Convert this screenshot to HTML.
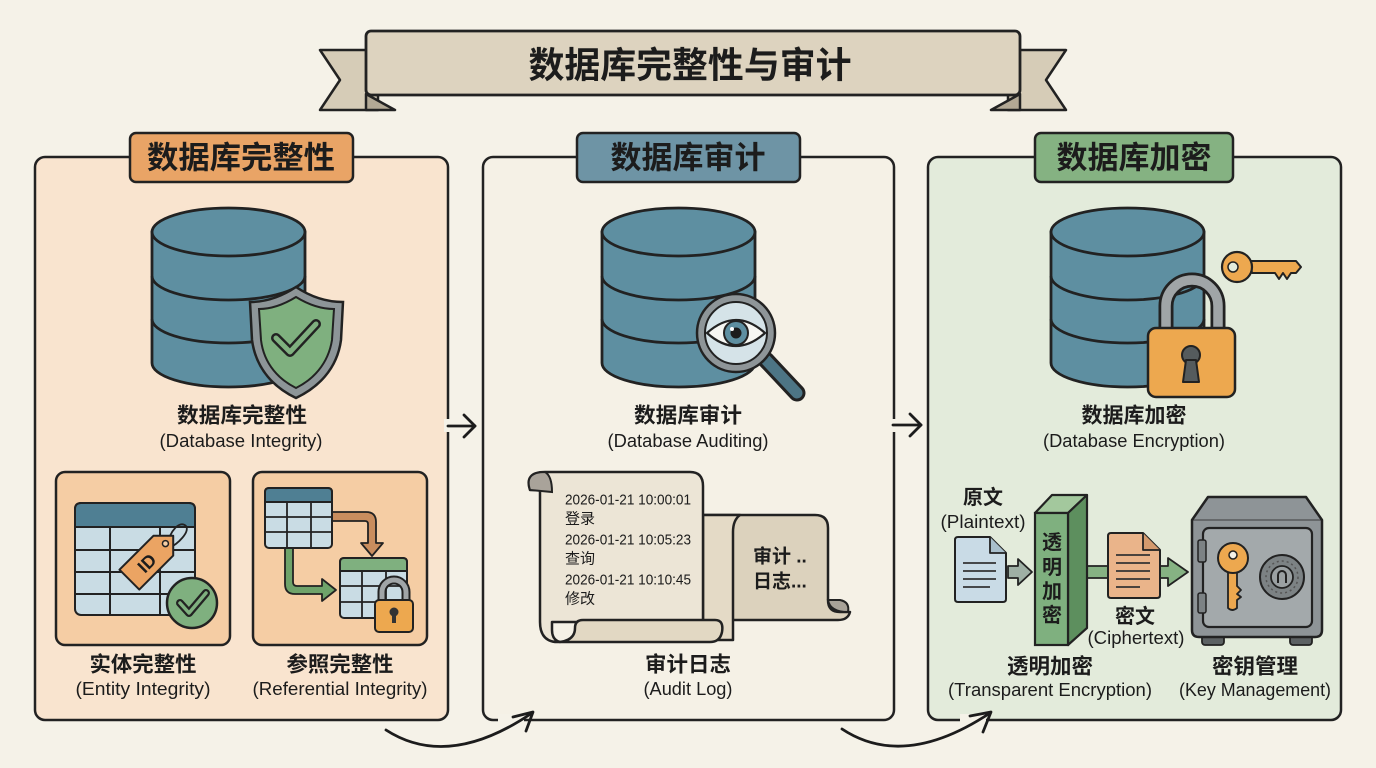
<!DOCTYPE html>
<html><head><meta charset="utf-8"><style>
html,body{margin:0;padding:0;background:#f5f2e8;}
svg{display:block;}
text{font-family:"Liberation Sans","Noto Sans CJK SC",sans-serif;fill:#1c1c1c;}
.zh{font-weight:700;}
</style></head><body>
<svg width="1376" height="768" viewBox="0 0 1376 768" xmlns="http://www.w3.org/2000/svg">
<rect width="1376" height="768" fill="#f5f2e8"/>

<!-- Title banner -->
<polygon points="320,50 378,50 378,110 320,110 340,80" fill="#d6ccb7" stroke="#222" stroke-width="2.5" stroke-linejoin="round"/>
<polygon points="1066,50 1008,50 1008,110 1066,110 1046,80" fill="#d6ccb7" stroke="#222" stroke-width="2.5" stroke-linejoin="round"/>
<polygon points="366,94 395,110 366,110" fill="#b3a995" stroke="#222" stroke-width="2.5" stroke-linejoin="round"/>
<polygon points="1020,94 991,110 1020,110" fill="#b3a995" stroke="#222" stroke-width="2.5" stroke-linejoin="round"/>
<rect x="366" y="31" width="654" height="64" rx="5" fill="#ddd3bf" stroke="#222" stroke-width="2.8"/>
<text x="690" y="65" text-anchor="middle" dominant-baseline="central" class="zh" font-size="36" textLength="323" lengthAdjust="spacingAndGlyphs">数据库完整性与审计</text>

<!-- Panels -->
<rect x="35" y="157" width="413" height="563" rx="10" fill="#f9e4cf" stroke="#222" stroke-width="2.5"/>
<rect x="483" y="157" width="411" height="563" rx="10" fill="#f5f1e6" stroke="#222" stroke-width="2.5"/>
<rect x="928" y="157" width="413" height="563" rx="10" fill="#e3ebdb" stroke="#222" stroke-width="2.5"/>

<!-- gaps in borders for arrows -->
<rect x="498" y="714" width="26" height="10" fill="#f5f2e8"/>
<rect x="960" y="714" width="26" height="10" fill="#f5f2e8"/>
<rect x="890" y="419" width="8" height="13" fill="#f5f2e8"/>
<rect x="444" y="419" width="8" height="13" fill="#f5f2e8"/>

<!-- Tabs -->
<rect x="130" y="133" width="223" height="49" rx="6" fill="#e9a466" stroke="#222" stroke-width="2.5"/>
<text x="241" y="158" text-anchor="middle" dominant-baseline="central" class="zh" font-size="31" textLength="188" lengthAdjust="spacingAndGlyphs">数据库完整性</text>
<rect x="577" y="133" width="223" height="49" rx="6" fill="#6e94a5" stroke="#222" stroke-width="2.5"/>
<text x="688" y="158" text-anchor="middle" dominant-baseline="central" class="zh" font-size="31" textLength="155" lengthAdjust="spacingAndGlyphs">数据库审计</text>
<rect x="1035" y="133" width="198" height="49" rx="6" fill="#85b282" stroke="#222" stroke-width="2.5"/>
<text x="1134" y="158" text-anchor="middle" dominant-baseline="central" class="zh" font-size="31" textLength="155" lengthAdjust="spacingAndGlyphs">数据库加密</text>

<!-- Databases -->
<g fill="#5e8fa1" stroke="#222" stroke-width="2.8">
  <path d="M152,232 L152,363 A76.5,24 0 0 0 305,363 L305,232 Z"/>
  <ellipse cx="228.5" cy="232" rx="76.5" ry="24"/>
  <path d="M152,276 A76.5,24 0 0 0 305,276 M152,319 A76.5,24 0 0 0 305,319" fill="none"/>
  <path d="M602,232 L602,363 A76.5,24 0 0 0 755,363 L755,232 Z"/>
  <ellipse cx="678.5" cy="232" rx="76.5" ry="24"/>
  <path d="M602,276 A76.5,24 0 0 0 755,276 M602,319 A76.5,24 0 0 0 755,319" fill="none"/>
  <path d="M1051,232 L1051,363 A76.5,24 0 0 0 1204,363 L1204,232 Z"/>
  <ellipse cx="1127.5" cy="232" rx="76.5" ry="24"/>
  <path d="M1051,276 A76.5,24 0 0 0 1204,276 M1051,319 A76.5,24 0 0 0 1204,319" fill="none"/>
</g>

<!-- Shield -->
<path d="M296,287 C281,297 266,302 250,302 L252,340 C256,370 275,388 296,398 C317,388 337,370 341,340 L343,302 C327,302 311,297 296,287 Z" fill="#8d9598" stroke="#222" stroke-width="2.5"/>
<path d="M296,297 C283,305 271,309 259,309 L261,340 C264,365 280,380 296,388 C312,380 328,365 332,340 L334,309 C321,309 309,305 296,297 Z" fill="#7fb07f" stroke="#222" stroke-width="2"/>
<polyline points="276,338 290,352 316,324" fill="none" stroke="#222" stroke-width="10" stroke-linecap="round" stroke-linejoin="round"/>
<polyline points="276,338 290,352 316,324" fill="none" stroke="#7fb07f" stroke-width="5" stroke-linecap="round" stroke-linejoin="round"/>

<!-- Magnifier -->
<line x1="766" y1="360" x2="797" y2="393" stroke="#222" stroke-width="17" stroke-linecap="round"/>
<line x1="766" y1="360" x2="797" y2="393" stroke="#4d7585" stroke-width="11" stroke-linecap="round"/>
<circle cx="736" cy="333" r="39" fill="#8e9598" stroke="#222" stroke-width="2.5"/>
<circle cx="736" cy="333" r="31" fill="#d5e3e8" stroke="#222" stroke-width="2"/>
<path d="M707,333 Q736,307 765,333 Q736,359 707,333 Z" fill="#f6f6f2" stroke="#222" stroke-width="2.2"/>
<circle cx="736" cy="333" r="12" fill="#5e8fa1" stroke="#222" stroke-width="2"/>
<circle cx="736" cy="333" r="5.5" fill="#1c1c1c"/>
<circle cx="732" cy="329" r="2" fill="#fff"/>

<!-- Lock and key panel 3 -->
<path d="M1166,332 L1166,306 A26,26 0 0 1 1218,306 L1218,332" fill="none" stroke="#222" stroke-width="15"/>
<path d="M1166,332 L1166,306 A26,26 0 0 1 1218,306 L1218,332" fill="none" stroke="#a0a5a7" stroke-width="9.5"/>
<rect x="1148" y="328" width="87" height="69" rx="8" fill="#eda84f" stroke="#222" stroke-width="2.5"/>
<circle cx="1191" cy="355" r="9" fill="#555b5d" stroke="#222" stroke-width="2"/>
<path d="M1186,360 L1183,382 L1199,382 L1196,360 Z" fill="#555b5d" stroke="#222" stroke-width="2" stroke-linejoin="round"/>
<path d="M1250,261 L1296,261 L1301,267 L1296,273 L1291,273 L1287,279 L1283,273 L1279,279 L1275,273 L1252,273 Z" fill="#eda84f" stroke="#222" stroke-width="2" stroke-linejoin="round"/>
<circle cx="1237" cy="267" r="15" fill="#eda84f" stroke="#222" stroke-width="2.2"/>
<circle cx="1233" cy="267" r="5" fill="#e3ebdb" stroke="#222" stroke-width="1.5"/>

<!-- Main labels -->
<text x="242" y="416" text-anchor="middle" dominant-baseline="central" class="zh" font-size="21" textLength="130" lengthAdjust="spacingAndGlyphs">数据库完整性</text>
<text x="241" y="441" text-anchor="middle" dominant-baseline="central" font-size="18" textLength="163" lengthAdjust="spacingAndGlyphs">(Database Integrity)</text>
<text x="688" y="416" text-anchor="middle" dominant-baseline="central" class="zh" font-size="21" textLength="108" lengthAdjust="spacingAndGlyphs">数据库审计</text>
<text x="688" y="441" text-anchor="middle" dominant-baseline="central" font-size="18" textLength="161" lengthAdjust="spacingAndGlyphs">(Database Auditing)</text>
<text x="1134" y="416" text-anchor="middle" dominant-baseline="central" class="zh" font-size="21" textLength="105" lengthAdjust="spacingAndGlyphs">数据库加密</text>
<text x="1134" y="441" text-anchor="middle" dominant-baseline="central" font-size="18" textLength="182" lengthAdjust="spacingAndGlyphs">(Database Encryption)</text>

<!-- Side arrows -->
<g fill="none" stroke="#1c1c1c" stroke-width="2.8" stroke-linecap="round" stroke-linejoin="round">
  <line x1="448" y1="426" x2="475" y2="426"/>
  <polyline points="464,415 475,426 464,437"/>
  <line x1="893" y1="425" x2="921" y2="425"/>
  <polyline points="910,414 921,425 910,436"/>
  <!-- bottom curved arrows -->
  <path d="M386,730 Q448,770 532,713"/>
  <polyline points="513,717 533,712 526,731"/>
  <path d="M842,729 Q904,770 990,713"/>
  <polyline points="970,716 991,712 983,732"/>
</g>

<!-- Panel 1 sub boxes -->
<rect x="56" y="472" width="174" height="173" rx="9" fill="#f5cda4" stroke="#222" stroke-width="2.5"/>
<rect x="253" y="472" width="174" height="173" rx="9" fill="#f5cda4" stroke="#222" stroke-width="2.5"/>
<!-- entity table -->
<rect x="75" y="503" width="120" height="112" rx="6" fill="#c9dce4" stroke="#222" stroke-width="2"/>
<path d="M75,527 L75,509 Q75,503 81,503 L189,503 Q195,503 195,509 L195,527 Z" fill="#4f7f93" stroke="#222" stroke-width="2"/>
<g stroke="#222" stroke-width="2">
  <line x1="75" y1="550" x2="195" y2="550"/><line x1="75" y1="572" x2="195" y2="572"/><line x1="75" y1="594" x2="195" y2="594"/>
  <line x1="110" y1="527" x2="110" y2="615"/><line x1="160" y1="527" x2="160" y2="615"/>
</g>
<path d="M167,546 C170,530 180,520 186,526 C190,532 178,544 169,548" fill="none" stroke="#222" stroke-width="1.8"/>
<g transform="translate(152,557) rotate(-45)">
  <polygon points="-32,-14 16,-14 30,0 16,14 -32,14" fill="#eba463" stroke="#222" stroke-width="2" stroke-linejoin="round"/>
  <circle cx="19" cy="0" r="3" fill="#f5cda4" stroke="#222" stroke-width="1.5"/>
  <text x="-8" y="1" text-anchor="middle" dominant-baseline="central" font-size="18" font-weight="700">ID</text>
</g>
<circle cx="192" cy="603" r="25" fill="#7fb07f" stroke="#222" stroke-width="2.5"/>
<polyline points="180,603 189,613 206,593" fill="none" stroke="#222" stroke-width="8" stroke-linecap="round" stroke-linejoin="round"/>
<polyline points="180,603 189,613 206,593" fill="none" stroke="#7fb07f" stroke-width="3.5" stroke-linecap="round" stroke-linejoin="round"/>

<!-- referential -->
<path d="M332,512 L366,512 Q376,512 376,522 L376,543 L383,543 L372,556 L361,543 L368,543 L368,524 Q368,521 365,521 L332,521 Z" fill="#c98d5e" stroke="#222" stroke-width="1.8" stroke-linejoin="round"/>
<path d="M293,548 L293,582 Q293,586 297,586 L322,586 L322,579 L336,590 L322,601 L322,594 L295,594 Q285,594 285,584 L285,548 Z" fill="#6fa36a" stroke="#222" stroke-width="1.8" stroke-linejoin="round"/>
<rect x="265" y="488" width="67" height="60" rx="4" fill="#c9dce4" stroke="#222" stroke-width="2"/>
<path d="M265,502 L265,492 Q265,488 269,488 L328,488 Q332,488 332,492 L332,502 Z" fill="#4f7f93" stroke="#222" stroke-width="2"/>
<g stroke="#222" stroke-width="1.8">
  <line x1="265" y1="517" x2="332" y2="517"/><line x1="265" y1="532" x2="332" y2="532"/>
  <line x1="287" y1="502" x2="287" y2="548"/><line x1="311" y1="502" x2="311" y2="548"/>
</g>
<rect x="340" y="558" width="67" height="60" rx="4" fill="#c9dce4" stroke="#222" stroke-width="2"/>
<path d="M340,571 L340,562 Q340,558 344,558 L403,558 Q407,558 407,562 L407,571 Z" fill="#7fb07f" stroke="#222" stroke-width="2"/>
<g stroke="#222" stroke-width="1.8">
  <line x1="340" y1="586" x2="407" y2="586"/><line x1="340" y1="602" x2="407" y2="602"/>
  <line x1="362" y1="571" x2="362" y2="618"/><line x1="386" y1="571" x2="386" y2="618"/>
</g>
<path d="M382,602 L382,592 A12,12 0 0 1 406,592 L406,602" fill="none" stroke="#222" stroke-width="9"/>
<path d="M382,602 L382,592 A12,12 0 0 1 406,592 L406,602" fill="none" stroke="#a0a5a7" stroke-width="5"/>
<rect x="375" y="600" width="38" height="32" rx="4" fill="#eda84f" stroke="#222" stroke-width="2"/>
<circle cx="394" cy="612" r="4.5" fill="#333"/>
<rect x="392" y="613" width="4" height="10" fill="#333"/>

<text x="143" y="665" text-anchor="middle" dominant-baseline="central" class="zh" font-size="21" textLength="107" lengthAdjust="spacingAndGlyphs">实体完整性</text>
<text x="143" y="689" text-anchor="middle" dominant-baseline="central" font-size="18" textLength="135" lengthAdjust="spacingAndGlyphs">(Entity Integrity)</text>
<text x="340" y="665" text-anchor="middle" dominant-baseline="central" class="zh" font-size="21" textLength="107" lengthAdjust="spacingAndGlyphs">参照完整性</text>
<text x="340" y="689" text-anchor="middle" dominant-baseline="central" font-size="18" textLength="175" lengthAdjust="spacingAndGlyphs">(Referential Integrity)</text>

<!-- Scroll -->
<path d="M690,515 L815,515 Q828,515 828,528 L828,600 Q828,612 840,612 L850,612 Q848,620 838,620 L700,620 Z" fill="#dcd2bd" stroke="#222" stroke-width="2.5" stroke-linejoin="round"/>
<path d="M828,600 Q830,612 848,612 Q850,602 840,600 Z" fill="#a8a298" stroke="#222" stroke-width="2"/>
<path d="M703,515 L740,515 Q733,520 733,532 L733,640 L703,640 Z" fill="#e4dac6" stroke="#222" stroke-width="2.5" stroke-linejoin="round"/>
<path d="M530,490 Q524,472 545,472 L690,472 Q703,472 703,486 L703,622 L552,622 L552,630 Q552,640 560,642 L555,642 Q540,640 540,622 L540,490 Z" fill="#ece5d6" stroke="#222" stroke-width="2.5" stroke-linejoin="round"/>
<path d="M530,490 Q524,472 545,472 Q552,476 552,492 Z" fill="#a9a39a" stroke="#222" stroke-width="2"/>
<path d="M583,620 L715,620 Q724,620 722,632 Q720,642 710,642 L560,642 Q575,640 575,628 Q575,620 583,620 Z" fill="#e2d8c3" stroke="#222" stroke-width="2.5" stroke-linejoin="round"/>
<g font-size="15">
<text x="565" y="500" dominant-baseline="central" textLength="126" lengthAdjust="spacingAndGlyphs">2026-01-21 10:00:01</text>
<text x="565" y="519" dominant-baseline="central">登录</text>
<text x="565" y="540" dominant-baseline="central" textLength="126" lengthAdjust="spacingAndGlyphs">2026-01-21 10:05:23</text>
<text x="565" y="559" dominant-baseline="central">查询</text>
<text x="565" y="580" dominant-baseline="central" textLength="126" lengthAdjust="spacingAndGlyphs">2026-01-21 10:10:45</text>
<text x="565" y="599" dominant-baseline="central">修改</text>
</g>
<text x="753" y="557" dominant-baseline="central" class="zh" font-size="19">审计 ..</text>
<text x="753" y="582" dominant-baseline="central" class="zh" font-size="19">日志...</text>
<text x="688" y="665" text-anchor="middle" dominant-baseline="central" class="zh" font-size="21" textLength="86" lengthAdjust="spacingAndGlyphs">审计日志</text>
<text x="688" y="689" text-anchor="middle" dominant-baseline="central" font-size="18" textLength="89" lengthAdjust="spacingAndGlyphs">(Audit Log)</text>

<!-- Panel 3 bottom -->
<text x="983" y="498" text-anchor="middle" dominant-baseline="central" class="zh" font-size="20">原文</text>
<text x="983" y="522" text-anchor="middle" dominant-baseline="central" font-size="18" textLength="85" lengthAdjust="spacingAndGlyphs">(Plaintext)</text>
<!-- plain doc -->
<path d="M955,540 Q955,537 958,537 L990,537 L1006,553 L1006,599 Q1006,602 1003,602 L958,602 Q955,602 955,599 Z" fill="#c9dbe6" stroke="#222" stroke-width="2" stroke-linejoin="round"/>
<path d="M990,537 L990,553 L1006,553" fill="#a9bfcc" stroke="#222" stroke-width="1.8" stroke-linejoin="round"/>
<g stroke="#333" stroke-width="1.8"><line x1="963" y1="563" x2="996" y2="563"/><line x1="963" y1="571" x2="996" y2="571"/><line x1="963" y1="579" x2="996" y2="579"/><line x1="963" y1="587" x2="990" y2="587"/></g>
<!-- grey arrow -->
<path d="M1008,566 L1018,566 L1018,559 L1032,572 L1018,585 L1018,578 L1008,578 Z" fill="#9fb0a5" stroke="#222" stroke-width="1.8" stroke-linejoin="round"/>
<!-- green arrow -->
<path d="M1085,566 L1168,566 L1168,558 L1188,572 L1168,586 L1168,578 L1085,578 Z" fill="#86b283" stroke="#222" stroke-width="1.8" stroke-linejoin="round"/>
<!-- block -->
<polygon points="1035,513 1052,495 1087,495 1068,513" fill="#a3c89d" stroke="#222" stroke-width="2.2" stroke-linejoin="round"/>
<polygon points="1068,513 1087,495 1087,628 1068,645" fill="#5d8f5e" stroke="#222" stroke-width="2.2" stroke-linejoin="round"/>
<rect x="1035" y="513" width="33" height="132" fill="#7fb07f" stroke="#222" stroke-width="2.2"/>
<g font-size="20" text-anchor="middle" class="zh">
<text x="1052" y="543" dominant-baseline="central">透</text>
<text x="1052" y="568" dominant-baseline="central">明</text>
<text x="1052" y="592" dominant-baseline="central">加</text>
<text x="1052" y="616" dominant-baseline="central">密</text>
</g>
<!-- cipher doc -->
<path d="M1108,536 Q1108,533 1111,533 L1143,533 L1160,550 L1160,595 Q1160,598 1157,598 L1111,598 Q1108,598 1108,595 Z" fill="#eab48a" stroke="#222" stroke-width="2" stroke-linejoin="round"/>
<path d="M1143,533 L1143,550 L1160,550" fill="#d49a6e" stroke="#222" stroke-width="1.8" stroke-linejoin="round"/>
<g stroke="#333" stroke-width="1.8"><line x1="1116" y1="555" x2="1150" y2="555"/><line x1="1116" y1="563" x2="1150" y2="563"/><line x1="1116" y1="571" x2="1150" y2="571"/><line x1="1116" y1="579" x2="1150" y2="579"/><line x1="1116" y1="587" x2="1140" y2="587"/></g>
<text x="1135" y="617" text-anchor="middle" dominant-baseline="central" class="zh" font-size="20">密文</text>
<text x="1136" y="638" text-anchor="middle" dominant-baseline="central" font-size="18" textLength="97" lengthAdjust="spacingAndGlyphs">(Ciphertext)</text>
<!-- safe -->
<rect x="1202" y="632" width="22" height="13" rx="3" fill="#5c6163" stroke="#222" stroke-width="1.8"/>
<rect x="1290" y="632" width="22" height="13" rx="3" fill="#5c6163" stroke="#222" stroke-width="1.8"/>
<path d="M1192,520 L1208,497 L1306,497 L1322,520 L1322,630 Q1322,637 1315,637 L1199,637 Q1192,637 1192,630 Z" fill="#8e9497" stroke="#222" stroke-width="2.5" stroke-linejoin="round"/>
<line x1="1192" y1="520" x2="1322" y2="520" stroke="#222" stroke-width="1.5" opacity="0.5"/>
<rect x="1203" y="528" width="109" height="99" rx="6" fill="#a3a9ab" stroke="#222" stroke-width="2.2"/>
<rect x="1198" y="540" width="8" height="22" rx="2" fill="#7c8284" stroke="#222" stroke-width="1.5"/>
<rect x="1198" y="593" width="8" height="20" rx="2" fill="#7c8284" stroke="#222" stroke-width="1.5"/>
<path d="M1228,570 L1228,608 Q1232,612 1237,608 L1237,600 L1241,597 L1237,594 L1241,590 L1237,586 L1237,570 Z" fill="#eda84f" stroke="#222" stroke-width="1.8" stroke-linejoin="round"/>
<circle cx="1233" cy="558" r="15" fill="#eda84f" stroke="#222" stroke-width="2"/>
<circle cx="1233" cy="555" r="4" fill="#f5f2e8" stroke="#222" stroke-width="1.5"/>
<circle cx="1282" cy="577" r="22" fill="#7c8284" stroke="#222" stroke-width="2"/>
<circle cx="1282" cy="577" r="16" fill="none" stroke="#555" stroke-width="1.5" stroke-dasharray="2 3"/>
<circle cx="1282" cy="577" r="11" fill="#9aa0a2" stroke="#222" stroke-width="1.8"/>
<path d="M1278,583 L1278,575 A4,4 0 0 1 1286,575 L1286,583" fill="none" stroke="#222" stroke-width="2"/>
<text x="1050" y="667" text-anchor="middle" dominant-baseline="central" class="zh" font-size="21" textLength="86" lengthAdjust="spacingAndGlyphs">透明加密</text>
<text x="1050" y="690" text-anchor="middle" dominant-baseline="central" font-size="18" textLength="204" lengthAdjust="spacingAndGlyphs">(Transparent Encryption)</text>
<text x="1255" y="667" text-anchor="middle" dominant-baseline="central" class="zh" font-size="21" textLength="86" lengthAdjust="spacingAndGlyphs">密钥管理</text>
<text x="1255" y="690" text-anchor="middle" dominant-baseline="central" font-size="18" textLength="152" lengthAdjust="spacingAndGlyphs">(Key Management)</text>
</svg>
</body></html>
